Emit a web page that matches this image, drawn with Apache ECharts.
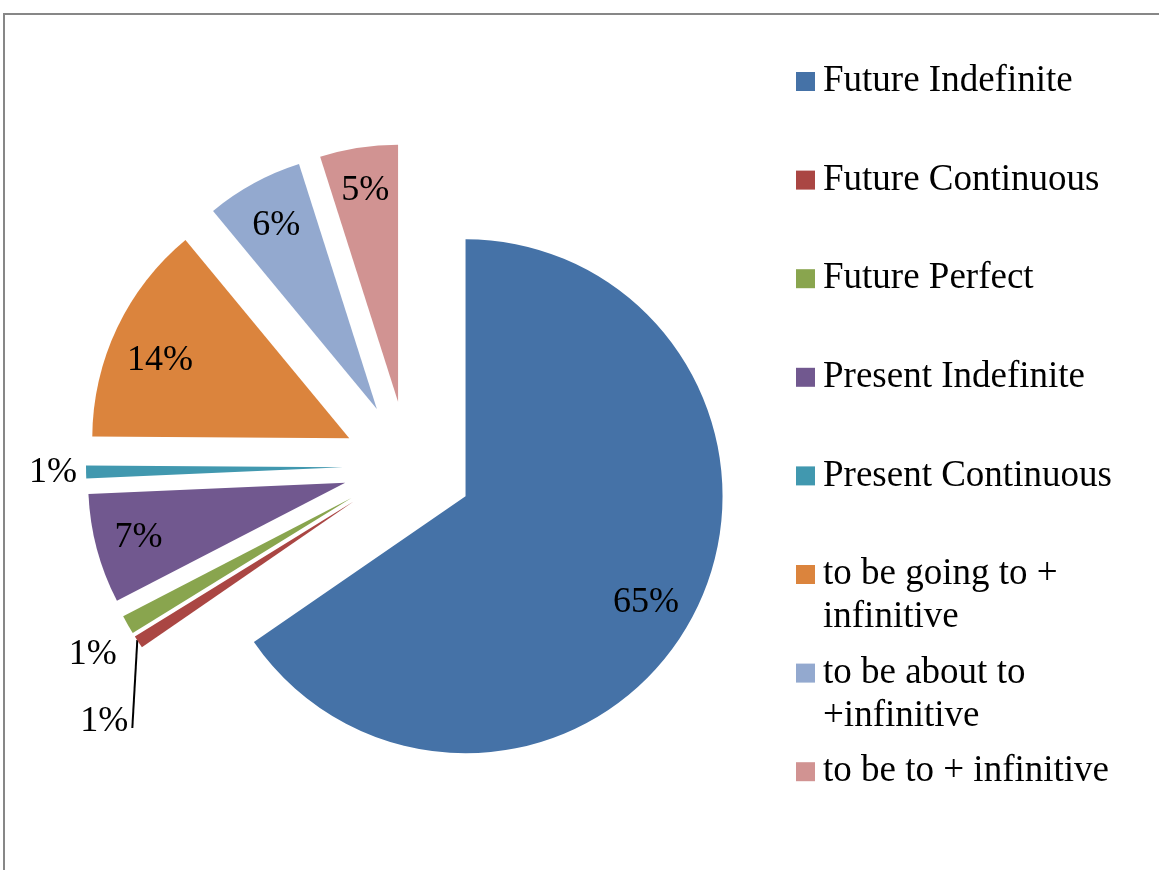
<!DOCTYPE html>
<html>
<head>
<meta charset="utf-8">
<script src="https://cdn.jsdelivr.net/npm/echarts@6/dist/echarts.min.js"></script>
<style>
    html, body { margin: 0; padding: 0; background: #fff; }
    #main { width: 1159px; height: 870px; }
</style>
</head>
<body>
<div id="main"></div>
<script>
    // data
    var categories = ['Future Indefinite', 'Future Continuous', 'Future Perfect', 'Present Indefinite',
        'Present Continuous', 'to be going to +\ninfinitive', 'to be about to\n+infinitive', 'to be to + infinitive'];
    var shares = [65.4, 0.8, 1.2, 6.9, 0.8, 13.9, 6.1, 4.9];
    var colors = ['#4572A7', '#AA4643', '#89A54E', '#71588F', '#4198AF', '#DB843D', '#93A9CF', '#D19392'];

    var FONT = 'Liberation Serif';
    var LINE = 43;

    // small nudges so the percent labels sit where Excel put them
    var labelNudge = {
        0: [-9, 7],
        1: [-10, 80],
        2: [-11, 30],
        5: [4, 14],
        6: [2, 4]
    };

    var myChart = echarts.init(document.getElementById('main'));

    // coloured slices, every one pulled out
    var sliceData = categories.map(function (name, i) {
        return {
            name: name,
            value: shares[i],
            selected: true,
            itemStyle: { color: colors[i] }
        };
    });

    // transparent copy that only carries the percent labels
    var labelData = categories.map(function (name, i) {
        var item = { name: name, value: shares[i], selected: true };
        if (i === 1 || i === 2 || i === 4) {
            item.label = {
                position: 'outside',
                distanceToLabelLine: i === 4 ? 9 : 0
            };
            item.labelLine = {
                show: i === 1,
                length: 0,
                length2: 0
            };
        }
        return item;
    });

    var option = {
        animation: false,
        backgroundColor: '#fff',
        graphic: [{
            type: 'polyline',
            shape: { points: [[4, 870], [4, 14], [1159, 14]] },
            style: { stroke: '#878787', lineWidth: 2, fill: null },
            silent: true
        }],
        legend: {
            orient: 'vertical',
            left: 796,
            top: 17,
            padding: 0,
            itemGap: -30.4,
            itemWidth: 19,
            itemHeight: 19,
            icon: 'rect',
            selectedMode: false,
            // every entry is three lines tall so the square lines up with the first text line
            formatter: function (name) {
                return name.indexOf('\n') >= 0 ? '\n' + name : '\n' + name + '\n';
            },
            textStyle: {
                fontFamily: FONT,
                fontSize: 37,
                lineHeight: LINE,
                padding: [0, 0, 0, 3],
                color: '#000'
            },
            data: categories
        },
        series: [
            {
                name: 'slices',
                type: 'pie',
                center: [408, 466],
                radius: [0, 257],
                startAngle: 90,
                selectedMode: 'multiple',
                selectedOffset: 65,
                avoidLabelOverlap: false,
                label: { show: false },
                labelLine: { show: false },
                emphasis: { scale: false },
                itemStyle: { borderWidth: 0 },
                select: { itemStyle: { borderWidth: 0 } },
                data: sliceData
            },
            {
                name: 'labels',
                type: 'pie',
                silent: true,
                center: [408, 466],
                radius: [165, 257],
                startAngle: 90,
                selectedMode: 'multiple',
                selectedOffset: 65,
                avoidLabelOverlap: false,
                itemStyle: { color: 'rgba(0,0,0,0)', borderWidth: 0 },
                select: { itemStyle: { color: 'rgba(0,0,0,0)', borderWidth: 0 } },
                emphasis: { scale: false },
                label: {
                    show: true,
                    position: 'inside',
                    fontFamily: FONT,
                    fontSize: 36,
                    color: '#000',
                    formatter: function (p) {
                        return Math.round(p.percent) + '%';
                    }
                },
                labelLine: {
                    lineStyle: { color: '#000', width: 2 }
                },
                labelLayout: function (params) {
                    var n = labelNudge[params.dataIndex];
                    if (!n) {
                        return;
                    }
                    var res = { dx: n[0], dy: n[1] };
                    // leader line of the red slice runs straight down to its label
                    if (params.dataIndex === 1 && params.labelLinePoints) {
                        var p0 = params.labelLinePoints[0];
                        res.labelLinePoints = [
                            [p0[0] - 1, p0[1] - 2],
                            [p0[0] - 6, p0[1] + 86]
                        ];
                    }
                    return res;
                },
                data: labelData
            }
        ]
    };

    myChart.setOption(option);
</script>
</body>
</html>
